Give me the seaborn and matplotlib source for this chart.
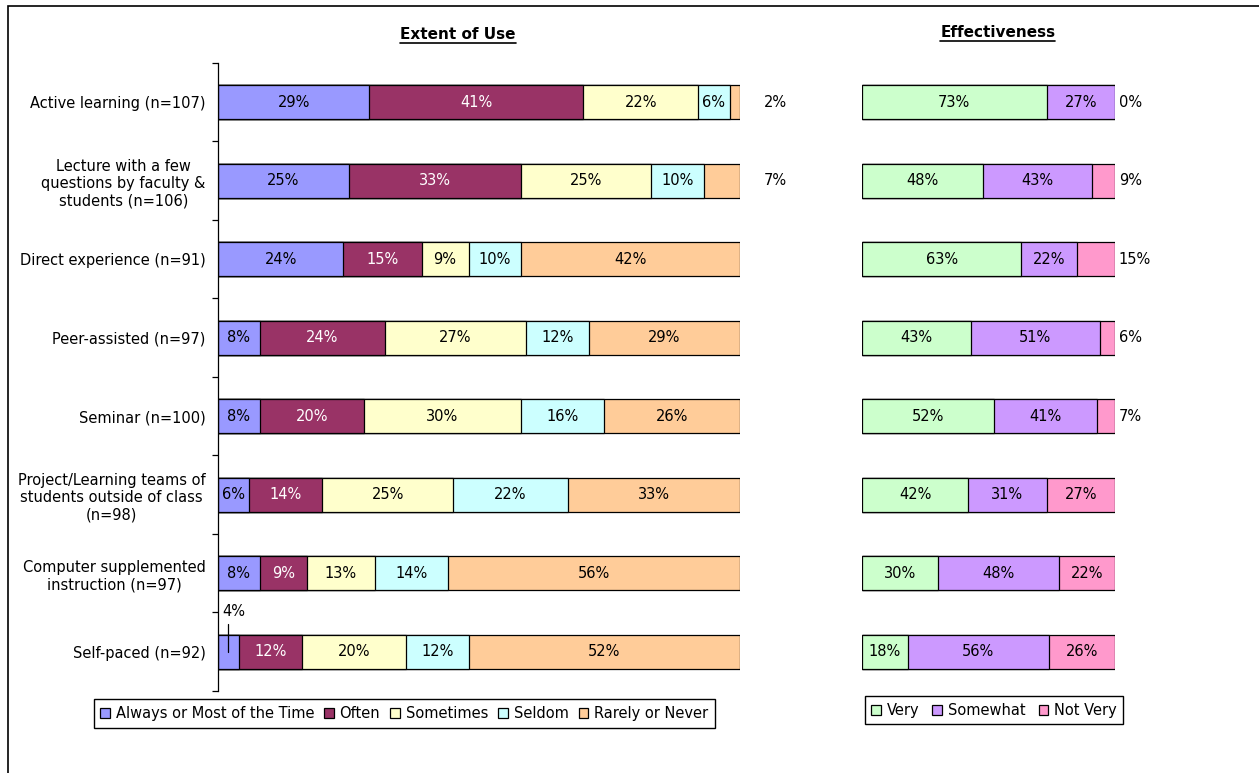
import numpy as np
import pandas as pd
import seaborn as sns
import matplotlib.pyplot as plt
from matplotlib.patches import Patch, Rectangle
from matplotlib.lines import Line2D

# dados
methods = [
    "Active learning (n=107)",
    "Lecture with a few\nquestions by faculty &\nstudents (n=106)",
    "Direct experience (n=91)",
    "Peer-assisted (n=97)",
    "Seminar (n=100)",
    "Project/Learning teams of\nstudents outside of class\n(n=98)",
    "Computer supplemented\ninstruction (n=97)",
    "Self-paced (n=92)",
]

use_names = ["Always or Most of the Time", "Often", "Sometimes", "Seldom", "Rarely or Never"]
use_always = [29, 25, 24, 8, 8, 6, 8, 4]
use_often = [41, 33, 15, 24, 20, 14, 9, 12]
use_sometimes = [22, 25, 9, 27, 30, 25, 13, 20]
use_seldom = [6, 10, 10, 12, 16, 22, 14, 12]
use_rarely = [2, 7, 42, 29, 26, 33, 56, 52]

eff_names = ["Very", "Somewhat", "Not Very"]
eff_very = [73, 48, 63, 43, 52, 42, 30, 18]
eff_somewhat = [27, 43, 22, 51, 41, 31, 48, 56]
eff_not = [0, 9, 15, 6, 7, 27, 22, 26]

use_colors = ["#9999FF", "#993366", "#FFFFCC", "#CCFFFF", "#FFCC99"]
use_text = ["black", "white", "black", "black", "black"]
eff_colors = ["#CCFFCC", "#CC99FF", "#FF99CC"]
eff_text = ["black", "black", "black"]

sns.set_style("white")
plt.rcParams["font.family"] = ["DejaVu Sans"]
plt.rcParams["text.color"] = "black"
plt.rcParams["ytick.color"] = "black"
FS = 10.5

fig = plt.figure(figsize=(12.59, 7.73), dpi=100)
ax1 = fig.add_axes([0.1732, 0.1061, 0.4146, 0.8124])
ax2 = fig.add_axes([0.6847, 0.1061, 0.2009, 0.8124])


def stacked(ax, series, names, colors, text_colors, out_limit, out_x):
    df = pd.DataFrame(dict(zip(names, series)))
    cum = df.cumsum(axis=1)
    # empilhado: desenha do total para o primeiro
    for name, color in reversed(list(zip(names, colors))):
        sns.barplot(x=cum[name].values, y=methods, color=color, saturation=1,
                    edgecolor="black", linewidth=0.9, width=0.43, orient="h", ax=ax)
    last = names[-1]
    for i in range(len(methods)):
        for name, tc in zip(names, text_colors):
            v = df.loc[i, name]
            c = cum.loc[i, name] - v / 2
            if name == last and v < out_limit:
                ax.text(out_x, i, f"{v}%", ha="left", va="center", fontsize=FS, clip_on=False)
            elif name == names[0] and v < 5:
                ax.plot([c, c], [i, i - 0.35], color="black", lw=0.9, clip_on=False)
                ax.text(0.8, i - 0.42, f"{v}%", ha="left", va="bottom", fontsize=FS, clip_on=False)
            else:
                ax.text(c, i, f"{v}%", ha="center", va="center", fontsize=FS, color=tc)
    ax.set_xlim(0, 100)
    ax.set_ylim(len(methods) - 0.5, -0.5)
    ax.set_xlabel("")
    ax.set_ylabel("")
    ax.set_xticks([])
    for s in ["top", "right", "bottom"]:
        ax.spines[s].set_visible(False)


stacked(ax1, [use_always, use_often, use_sometimes, use_seldom, use_rarely],
        use_names, use_colors, use_text, 10, 104.5)
stacked(ax2, [eff_very, eff_somewhat, eff_not],
        eff_names, eff_colors, eff_text, 20, 101.5)

# eixo da esquerda: rotulos nos centros, tracos nas divisoes
ax1.set_yticks(range(len(methods)))
ax1.set_yticklabels(methods, fontsize=FS, multialignment="center", linespacing=1.2)
ax1.tick_params(axis="y", which="major", length=0, pad=9)
ax1.set_yticks(np.arange(-0.5, len(methods)), minor=True)
ax1.tick_params(axis="y", which="minor", length=4, width=0.9, direction="out", left=True)
ax1.spines["left"].set_color("black")
ax1.spines["left"].set_linewidth(0.9)

ax2.set_yticks([])
ax2.spines["left"].set_visible(False)

t1 = ax1.text(0.46, 1.045, "Extent of Use", transform=ax1.transAxes, ha="center",
              va="center", fontsize=11, fontweight="bold")
t2 = ax2.text(0.537, 1.049, "Effectiveness", transform=ax2.transAxes, ha="center",
              va="center", fontsize=11, fontweight="bold")

# legendas
h1 = [Patch(facecolor=c, edgecolor="black", linewidth=0.9) for c in use_colors]
fig.legend(h1, use_names, loc="center", bbox_to_anchor=(0.321, 0.077), ncol=5,
           fontsize=FS, frameon=True, fancybox=False, edgecolor="black", framealpha=1,
           handlelength=0.65, handleheight=0.65, handletextpad=0.4, columnspacing=0.7,
           borderpad=0.45)
h2 = [Patch(facecolor=c, edgecolor="black", linewidth=0.9) for c in eff_colors]
fig.legend(h2, eff_names, loc="center", bbox_to_anchor=(0.7895, 0.081), ncol=3,
           fontsize=FS, frameon=True, fancybox=False, edgecolor="black", framealpha=1,
           handlelength=0.65, handleheight=0.65, handletextpad=0.4, columnspacing=0.9,
           borderpad=0.45)

# borda da figura
fig.patches.append(Rectangle((8 / 1259, -0.01), 1.02, 1 - 6 / 773 + 0.01,
                             transform=fig.transFigure, fill=False,
                             edgecolor="black", linewidth=1.2))

# sublinhado dos titulos
fig.canvas.draw()
r = fig.canvas.get_renderer()
for t in [t1, t2]:
    bb = t.get_window_extent(r)
    y = (bb.y0 - 1) / fig.bbox.height
    fig.add_artist(Line2D([bb.x0 / fig.bbox.width, bb.x1 / fig.bbox.width], [y, y],
                          transform=fig.transFigure, color="black", lw=1.2))

fig.savefig("out.png", dpi=100)
